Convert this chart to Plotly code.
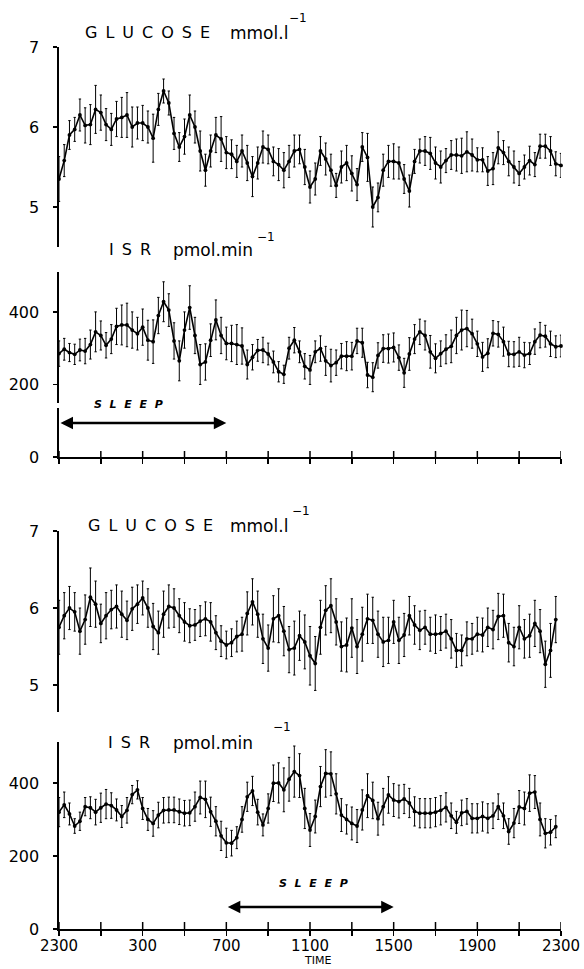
import plotly.graph_objects as go

# ---------------- data ----------------
# time in hours after 23:00, samples every 15 min
TIME_H = [i * 0.25 for i in range(97)]
X_TICKS = list(range(0, 25, 2))
X_TICK_TEXT = ["2300", "", "300", "", "700", "", "1100", "", "1500", "", "1900", "", "2300"]
GLU_TICKS = [5, 6, 7]
ISR_TICKS = [0, 200, 400]
SLEEP_TOP = (0, 8)       # 2300 -> 0700
SLEEP_BOTTOM = (8, 16)   # 0700 -> 1500

GLU1 = [5.35, 5.58, 5.90, 5.97, 6.15, 6.02, 6.03, 6.22, 6.18, 6.03,
        5.97, 6.10, 6.12, 6.15, 6.00, 6.05, 6.05, 6.00, 5.86, 6.22,
        6.45, 6.30, 5.92, 5.75, 5.88, 6.15, 6.00, 5.70, 5.46, 5.70,
        5.90, 5.85, 5.68, 5.66, 5.57, 5.70, 5.55, 5.38, 5.55, 5.75,
        5.72, 5.57, 5.53, 5.46, 5.57, 5.70, 5.72, 5.50, 5.25, 5.35,
        5.70, 5.60, 5.46, 5.27, 5.50, 5.55, 5.42, 5.28, 5.75, 5.62,
        5.00, 5.12, 5.46, 5.57, 5.57, 5.55, 5.35, 5.20, 5.57, 5.70,
        5.70, 5.67, 5.55, 5.50, 5.58, 5.65, 5.65, 5.64, 5.69, 5.65,
        5.59, 5.59, 5.45, 5.48, 5.74, 5.68, 5.57, 5.50, 5.42, 5.50,
        5.58, 5.53, 5.76, 5.76, 5.70, 5.54, 5.52]
GLU1_ERR = [0.28, 0.20, 0.18, 0.15, 0.20, 0.22, 0.25, 0.30, 0.22, 0.20,
            0.20, 0.22, 0.25, 0.28, 0.25, 0.20, 0.22, 0.20, 0.30, 0.20,
            0.15, 0.15, 0.20, 0.18, 0.22, 0.25, 0.20, 0.25, 0.20, 0.20,
            0.22, 0.28, 0.20, 0.18, 0.20, 0.20, 0.22, 0.25, 0.20, 0.20,
            0.18, 0.18, 0.20, 0.22, 0.20, 0.20, 0.18, 0.22, 0.20, 0.20,
            0.18, 0.20, 0.20, 0.15, 0.20, 0.22, 0.22, 0.20, 0.18, 0.30,
            0.25, 0.18, 0.20, 0.20, 0.22, 0.20, 0.18, 0.20, 0.15, 0.15,
            0.18, 0.20, 0.20, 0.20, 0.15, 0.18, 0.20, 0.22, 0.25, 0.20,
            0.15, 0.15, 0.18, 0.20, 0.20, 0.15, 0.18, 0.20, 0.15, 0.15,
            0.18, 0.15, 0.15, 0.15, 0.18, 0.15, 0.15]

ISR1 = [285, 297, 288, 283, 295, 292, 310, 345, 335, 308,
        325, 360, 364, 364, 350, 340, 358, 322, 318, 390,
        428, 405, 320, 265, 350, 412, 335, 255, 262, 322,
        378, 335, 313, 313, 310, 306, 255, 275, 294, 295,
        284, 262, 235, 228, 300, 322, 290, 250, 240, 290,
        299, 265, 252, 260, 278, 278, 278, 320, 315, 226,
        220, 280, 299, 299, 302, 274, 232, 284, 325, 345,
        335, 290, 272, 285, 297, 305, 335, 350, 354, 340,
        312, 276, 286, 341, 338, 318, 284, 283, 290, 281,
        285, 318, 336, 333, 312, 304, 306]
ISR1_ERR = [35, 30, 25, 28, 30, 35, 40, 55, 40, 35,
            40, 50, 55, 60, 50, 45, 50, 55, 60, 50,
            55, 45, 50, 55, 50, 60, 50, 55, 50, 45,
            55, 50, 45, 50, 55, 50, 40, 35, 30, 35,
            30, 30, 28, 25, 30, 35, 30, 35, 40, 30,
            35, 40, 45, 35, 35, 40, 38, 35, 40, 35,
            40, 35, 38, 40, 40, 35, 40, 45, 40, 35,
            40, 45, 40, 35, 40, 45, 50, 55, 50, 40,
            35, 40, 40, 35, 35, 40, 35, 35, 40, 35,
            30, 35, 35, 30, 35, 30, 30]

GLU2 = [5.75, 5.90, 6.00, 5.95, 5.70, 5.85, 6.14, 6.05, 5.80, 5.90,
        5.98, 6.02, 5.92, 5.84, 5.99, 6.05, 6.13, 6.00, 5.76, 5.68,
        5.92, 6.02, 6.00, 5.90, 5.82, 5.77, 5.78, 5.83, 5.86, 5.82,
        5.68, 5.57, 5.52, 5.55, 5.63, 5.66, 5.93, 6.08, 5.92, 5.60,
        5.48, 5.86, 5.90, 5.70, 5.46, 5.48, 5.64, 5.56, 5.38, 5.28,
        5.75, 5.97, 6.03, 5.82, 5.50, 5.52, 5.74, 5.50, 5.66, 5.86,
        5.84, 5.66, 5.56, 5.58, 5.82, 5.58, 5.65, 5.90, 5.78, 5.71,
        5.75, 5.66, 5.66, 5.67, 5.70, 5.60, 5.45, 5.45, 5.60, 5.60,
        5.66, 5.65, 5.75, 5.72, 5.89, 5.90, 5.55, 5.50, 5.75, 5.60,
        5.64, 5.80, 5.70, 5.27, 5.45, 5.85]
GLU2_ERR = [0.35, 0.30, 0.28, 0.25, 0.30, 0.32, 0.38, 0.30, 0.25, 0.30,
            0.25, 0.28, 0.30, 0.25, 0.28, 0.25, 0.22, 0.25, 0.30, 0.28,
            0.30, 0.28, 0.25, 0.22, 0.25, 0.22, 0.20, 0.20, 0.22, 0.25,
            0.22, 0.20, 0.18, 0.18, 0.20, 0.22, 0.28, 0.30, 0.30, 0.32,
            0.30, 0.30, 0.35, 0.32, 0.30, 0.35, 0.32, 0.35, 0.38, 0.35,
            0.35, 0.32, 0.35, 0.30, 0.32, 0.35, 0.38, 0.35, 0.35, 0.32,
            0.30, 0.30, 0.32, 0.30, 0.28, 0.30, 0.28, 0.25, 0.25, 0.25,
            0.22, 0.22, 0.25, 0.22, 0.22, 0.25, 0.22, 0.20, 0.22, 0.20,
            0.22, 0.22, 0.25, 0.25, 0.30, 0.28, 0.25, 0.25, 0.28, 0.25,
            0.28, 0.30, 0.28, 0.30, 0.35, 0.30]

ISR2 = [320, 340, 315, 282, 295, 335, 332, 320, 332, 342,
        338, 326, 308, 325, 368, 381, 330, 300, 289, 312,
        325, 326, 326, 321, 317, 318, 335, 360, 355, 321,
        295, 255, 236, 235, 250, 300, 362, 378, 320, 285,
        330, 399, 400, 381, 410, 431, 420, 330, 271, 308,
        390, 426, 425, 370, 312, 300, 289, 282, 326, 365,
        352, 302, 335, 367, 353, 349, 356, 345, 322, 317,
        317, 317, 320, 325, 333, 310, 292, 318, 322, 303,
        303, 308, 303, 310, 335, 310, 267, 290, 334, 330,
        372, 375, 300, 262, 265, 280]
ISR2_ERR = [40, 35, 30, 20, 25, 25, 30, 35, 40, 40,
            35, 30, 30, 35, 25, 25, 30, 30, 35, 35,
            35, 35, 35, 35, 35, 35, 40, 45, 50, 40,
            40, 40, 40, 35, 30, 35, 40, 40, 35, 30,
            40, 50, 55, 60, 60, 70, 60, 55, 45, 45,
            55, 65, 60, 55, 45, 40, 45, 45, 55, 60,
            50, 45, 50, 50, 45, 45, 40, 40, 40, 40,
            40, 40, 40, 40, 40, 35, 30, 35, 35, 40,
            40, 40, 40, 35, 35, 35, 35, 40, 45, 45,
            50, 45, 45, 40, 35, 30]

# ---------------- layout helpers ----------------
W, H = 584, 969
FONT = "DejaVu Sans"


def xp(p):
    return p / W


def yp(p):
    return 1 - p / H


XDOM = [xp(59), xp(561)]


def series(x, y, err, xa, ya):
    return go.Scatter(
        x=x, y=y, xaxis=xa, yaxis=ya, mode="lines+markers",
        line=dict(color="black", width=1.6),
        marker=dict(color="black", size=3.8),
        error_y=dict(type="data", array=err, visible=True, color="black",
                     thickness=1.0, width=1.2),
        showlegend=False, hoverinfo="skip", cliponaxis=False,
    )


fig = go.Figure()
fig.add_trace(series(TIME_H[:len(GLU1)], GLU1, GLU1_ERR, "x", "y"))
fig.add_trace(series(TIME_H[:len(ISR1)], ISR1, ISR1_ERR, "x2", "y2"))
fig.add_trace(series(TIME_H[:len(GLU2)], GLU2, GLU2_ERR, "x3", "y3"))
fig.add_trace(series(TIME_H[:len(ISR2)], ISR2, ISR2_ERR, "x4", "y4"))

common_x = dict(domain=XDOM, range=[0, 24], showgrid=False, zeroline=False,
                automargin=False)
axis_x = dict(showline=True, linecolor="black", linewidth=1.6, ticks="outside",
              ticklen=5, tickwidth=1.5, tickcolor="black", tickmode="array",
              tickvals=X_TICKS)
common_y = dict(showgrid=False, zeroline=False, showline=True, linecolor="black",
                linewidth=1.6, ticks="outside", ticklen=4, tickwidth=1.5,
                tickcolor="black", tickmode="array", automargin=False,
                tickfont=dict(family=FONT, size=16, color="black"),
                ticklabelstandoff=11)

fig.update_layout(
    width=W, height=H, margin=dict(l=0, r=0, t=0, b=0, pad=0, autoexpand=False),
    paper_bgcolor="white", plot_bgcolor="white", showlegend=False,
    xaxis=dict(**common_x, anchor="y", visible=False),
    xaxis2=dict(**common_x, **axis_x, anchor="y2", showticklabels=False),
    xaxis3=dict(**common_x, anchor="y3", visible=False),
    xaxis4=dict(**common_x, **axis_x, anchor="y4", ticktext=X_TICK_TEXT,
                tickfont=dict(family=FONT, size=15, color="black"),
                ticklabelstandoff=-3),
    yaxis=dict(**common_y, domain=[yp(247), yp(47)], range=[4.5, 7.0],
               tickvals=GLU_TICKS, anchor="x"),
    yaxis2=dict(**common_y, domain=[yp(457), yp(272)], range=[0, 510],
                tickvals=ISR_TICKS, anchor="x2"),
    yaxis3=dict(**common_y, domain=[yp(712), yp(531)], range=[4.65, 7.0],
                tickvals=GLU_TICKS, anchor="x3"),
    yaxis4=dict(**common_y, domain=[yp(929), yp(742)], range=[0, 512],
                tickvals=ISR_TICKS, anchor="x4"),
)

# crossing tick marks (inner half) on the two time axes
shapes = []
for h in X_TICKS:
    shapes.append(dict(type="line", xref="x2", yref="paper", x0=h, x1=h,
                       y0=yp(457), y1=yp(451), line=dict(color="black", width=1.5)))
    shapes.append(dict(type="line", xref="x4", yref="paper", x0=h, x1=h,
                       y0=yp(929), y1=yp(922), line=dict(color="black", width=1.5)))
# small break in the upper ISR axis
shapes.append(dict(type="line", xref="paper", yref="paper", x0=xp(59), x1=xp(59),
                   y0=yp(403), y1=yp(408), line=dict(color="white", width=4)))
fig.update_layout(shapes=shapes)

EN = "\u2002"
G_LETTERS = EN.join("GLUCOSE")
I_LETTERS = EN.join("ISR")
SLEEP_TXT = "<b><i>" + ("\u2002\u2009").join("SLEEP") + "</i></b>"


def label(text, xpx, ypx, size, xanchor="left", yanchor="middle"):
    return dict(text=text, x=xp(xpx), y=yp(ypx), xref="paper", yref="paper",
                xanchor=xanchor, yanchor=yanchor, showarrow=False,
                font=dict(family=FONT, size=size, color="black"))


ann = [
    label(G_LETTERS, 83, 32, 16),
    label("mmol.l", 228, 33, 17),
    label("\u22121", 287, 18, 12),
    label(I_LETTERS, 107, 249, 16),
    label("pmol.min", 171, 250, 17),
    label("\u22121", 255, 237, 12),
    label(G_LETTERS, 86, 525, 16),
    label("mmol.l", 228, 526, 17),
    label("\u22121", 290, 511, 12),
    label(I_LETTERS, 106, 742, 16),
    label("pmol.min", 171, 743, 17),
    label("\u22121", 271, 727, 12),
    label("TIME", 317, 969, 11, "center", "bottom"),
    label(SLEEP_TXT, 92, 405, 11),
    label(SLEEP_TXT, 277, 883, 11),
    dict(x=SLEEP_TOP[1], y=94, ax=SLEEP_TOP[0], ay=94, xref="x2", yref="y2",
         axref="x2", ayref="y2", showarrow=True, arrowhead=2, arrowside="end+start",
         arrowsize=1, arrowwidth=2.5, arrowcolor="black", text=""),
    dict(x=SLEEP_BOTTOM[1], y=60, ax=SLEEP_BOTTOM[0], ay=60, xref="x4", yref="y4",
         axref="x4", ayref="y4", showarrow=True, arrowhead=2, arrowside="end+start",
         arrowsize=1, arrowwidth=2.5, arrowcolor="black", text=""),
]
fig.update_layout(annotations=ann)

fig.write_html("out.html",
               config={"displayModeBar": False, "staticPlot": True},
               post_script="document.body.style.margin='0';document.body.style.overflow='hidden';")
